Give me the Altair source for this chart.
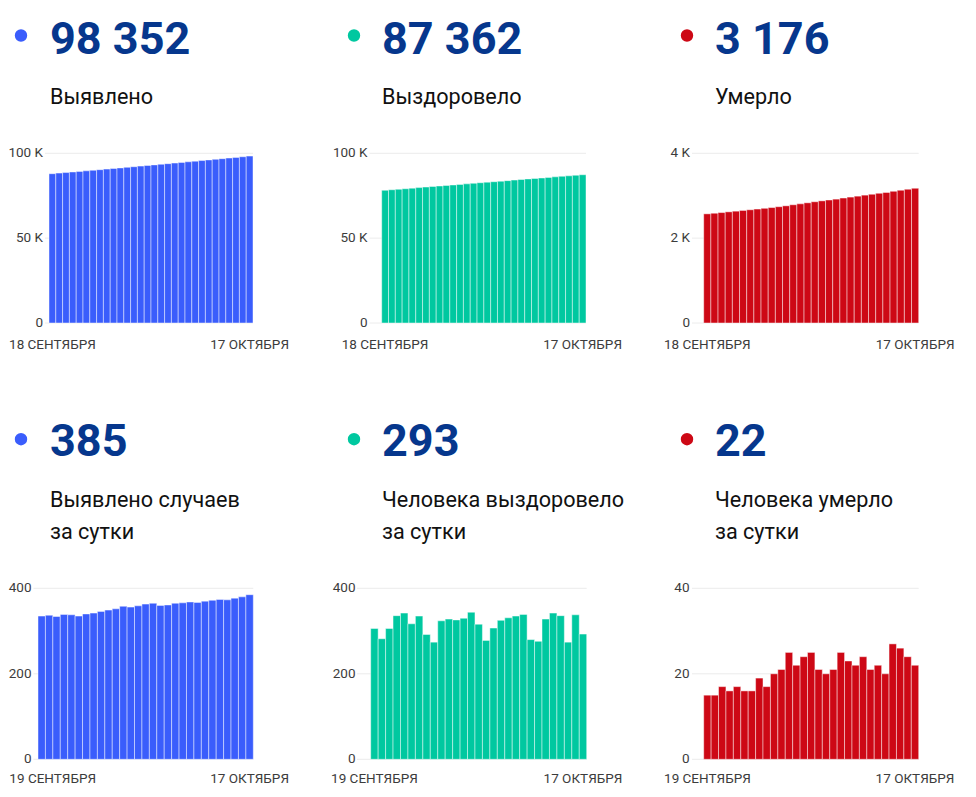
import altair as alt
import pandas as pd

FONT = "Roboto"
NUM_COLOR = "#06378d"
TITLE_COLOR = "#111111"
AXIS_COLOR = "#3c3c3c"
GRID_COLOR = "#ececec"
BLUE = "#3a5dfc"
GREEN = "#00c8a0"
RED = "#cd0815"

# ---------------- data ----------------
dates_cum = [d.strftime("%Y-%m-%d") for d in pd.date_range("2020-09-18", "2020-10-17", freq="D")]
dates_day = dates_cum[1:]
MONTHS_RU = {9: "СЕНТЯБРЯ", 10: "ОКТЯБРЯ"}

cum_detected = [87986, 88321, 88658, 88992, 89331, 89669, 90004, 90344, 90686, 91032,
                91381, 91733, 92091, 92447, 92806, 93169, 93534, 93894, 94255, 94620,
                94986, 95354, 95721, 96091, 96463, 96837, 97210, 97587, 97967, 98352]
cum_recovered = [78222, 78528, 78810, 79116, 79452, 79794, 80111, 80446, 80738, 81012,
                 81336, 81664, 81990, 82320, 82664, 82980, 83258, 83565, 83890, 84221,
                 84556, 84895, 85175, 85451, 85779, 86121, 86457, 86731, 87069, 87362]
cum_deaths = [2573, 2588, 2603, 2620, 2636, 2653, 2669, 2685, 2704, 2721,
              2741, 2762, 2787, 2809, 2833, 2858, 2879, 2899, 2920, 2945,
              2968, 2990, 3014, 3035, 3057, 3077, 3104, 3130, 3154, 3176]
day_detected = [335, 337, 334, 339, 338, 335, 340, 342, 346, 349, 352, 358, 356, 359, 363,
                365, 360, 361, 365, 366, 368, 367, 370, 372, 374, 373, 377, 380, 385]
day_recovered = [306, 282, 306, 336, 342, 317, 335, 292, 274, 324, 328, 326, 330, 344, 316,
                 278, 307, 325, 331, 335, 339, 280, 276, 328, 342, 336, 274, 338, 293]
day_deaths = [15, 15, 17, 16, 17, 16, 16, 19, 17, 20, 21, 25, 22, 24, 25,
              21, 20, 21, 25, 23, 22, 24, 21, 22, 20, 27, 26, 24, 22]

titles = ["Выявлено", "Выздоровело", "Умерло",
          "Выявлено случаев\nза сутки", "Человека выздоровело\nза сутки", "Человека умерло\nза сутки"]
ticks_big = [0, 50000, 100000]
ticks_deaths_cum = [0, 2000, 4000]
ticks_daily = [0, 200, 400]
ticks_deaths_day = [0, 20, 40]


def day_label(iso):
    d = pd.Timestamp(iso)
    return f"{d.day} {MONTHS_RU[d.month]}"


def fmt_total(v):
    return f"{v:,}".replace(",", " ")


def fmt_tick(v):
    return f"{v // 1000} K" if v >= 1000 else str(v)


# ---------------- layout (view pixels) ----------------
DOT_X = [13, 346, 679]
TEXT_X = [42, 374, 707]
ROW_DOT_Y = [27.5, 431.2]
ROW_NUM_Y = [46, 448]
ROW_TITLE_Y = [95.5, 499]
ROW_XLAB_Y = [336.5, 771]

# x0/x1: bar extent, gs: grid start, lr: y-label right edge, nudge: shift of first date label
panels = [
    dict(dates=dates_cum, values=cum_detected, color=BLUE, ticks=ticks_big, title=titles[0],
         col=0, row=0, x0=41, x1=245, yb=315, yt=145.3, gs=37, lr=35, nudge=0),
    dict(dates=dates_cum, values=cum_recovered, color=GREEN, ticks=ticks_big, title=titles[1],
         col=1, row=0, x0=373.7, x1=578, yb=315, yt=145.3, gs=361.5, lr=359.5, nudge=0),
    dict(dates=dates_cum, values=cum_deaths, color=RED, ticks=ticks_deaths_cum, title=titles[2],
         col=2, row=0, x0=695.7, x1=910.7, yb=315, yt=145.3, gs=684, lr=682, nudge=0),
    dict(dates=dates_day, values=day_detected, color=BLUE, ticks=ticks_daily, title=titles[3],
         col=0, row=1, x0=30, x1=245.3, yb=751.3, yt=580.3, gs=25.5, lr=23.5, nudge=11),
    dict(dates=dates_day, values=day_recovered, color=GREEN, ticks=ticks_daily, title=titles[4],
         col=1, row=1, x0=362.7, x1=578.7, yb=751.3, yt=580.3, gs=349, lr=347.5, nudge=0),
    dict(dates=dates_day, values=day_deaths, color=RED, ticks=ticks_deaths_day, title=titles[5],
         col=2, row=1, x0=695.7, x1=910.7, yb=751.3, yt=580.3, gs=684, lr=681.5, nudge=0),
]

layers = []
for p in panels:
    df = pd.DataFrame({"date": p["dates"], "value": p["values"]})
    df_ticks = pd.DataFrame({"v": p["ticks"], "label": [fmt_tick(t) for t in p["ticks"]]})
    df_first = pd.DataFrame({"date": [p["dates"][0]], "label": [day_label(p["dates"][0])]})
    df_last = pd.DataFrame({"date": [p["dates"][-1]], "label": [day_label(p["dates"][-1])]})
    df_head = pd.DataFrame({"total": [fmt_total(p["values"][-1])], "title": [p["title"]]})

    xscale = alt.Scale(domain=p["dates"], range=[p["x0"], p["x1"]], paddingInner=0, paddingOuter=0)
    yscale = alt.Scale(domain=[p["ticks"][0], p["ticks"][-1]], range=[p["yb"], p["yt"]], nice=False, zero=True)

    grid = alt.Chart(df_ticks).mark_rule(color=GRID_COLOR, strokeWidth=1).encode(
        y=alt.Y("v:Q", scale=yscale, axis=None),
        x=alt.value(p["gs"]),
        x2=alt.value(p["x1"]),
    )
    bars = alt.Chart(df).mark_bar(color=p["color"], stroke="white", strokeOpacity=0.45, strokeWidth=1).encode(
        x=alt.X("date:O", scale=xscale, axis=None),
        y=alt.Y("value:Q", scale=yscale, axis=None),
    )
    ylab = alt.Chart(df_ticks).mark_text(align="right", baseline="middle", font=FONT, fontSize=13.5,
                                         color=AXIS_COLOR).encode(
        y=alt.Y("v:Q", scale=yscale, axis=None),
        x=alt.value(p["lr"]),
        text="label:N",
    )
    xlab_first = alt.Chart(df_first).mark_text(align="center", baseline="middle", font=FONT, fontSize=13.5,
                                               color=AXIS_COLOR, dx=p["nudge"]).encode(
        x=alt.X("date:O", scale=xscale, axis=None),
        y=alt.value(ROW_XLAB_Y[p["row"]]),
        text="label:N",
    )
    xlab_last = alt.Chart(df_last).mark_text(align="center", baseline="middle", font=FONT, fontSize=13.5,
                                             color=AXIS_COLOR).encode(
        x=alt.X("date:O", scale=xscale, axis=None),
        y=alt.value(ROW_XLAB_Y[p["row"]]),
        text="label:N",
    )
    dot = alt.Chart(df_head).mark_circle(size=154, color=p["color"], opacity=1).encode(
        x=alt.value(DOT_X[p["col"]]),
        y=alt.value(ROW_DOT_Y[p["row"]]),
    )
    num = alt.Chart(df_head).mark_text(align="left", baseline="alphabetic", font=FONT, fontSize=45,
                                       fontWeight="bold", color=NUM_COLOR).encode(
        x=alt.value(TEXT_X[p["col"]]),
        y=alt.value(ROW_NUM_Y[p["row"]]),
        text="total:N",
    )
    ttl = alt.Chart(df_head).mark_text(align="left", baseline="alphabetic", font=FONT, fontSize=21.6,
                                       color=TITLE_COLOR, lineBreak="\n", lineHeight=31.5).encode(
        x=alt.value(TEXT_X[p["col"]]),
        y=alt.value(ROW_TITLE_Y[p["row"]]),
        text="title:N",
    )
    layers += [grid, bars, ylab, xlab_first, xlab_last, dot, num, ttl]

chart = alt.layer(*layers).resolve_scale(x="independent", y="independent").properties(
    width=960, height=781, padding=0, autosize=alt.AutoSizeParams(type="none"),
    background="white",
).configure_view(stroke=None)

chart.save("out.html", embed_options={"renderer": "svg", "actions": False})
